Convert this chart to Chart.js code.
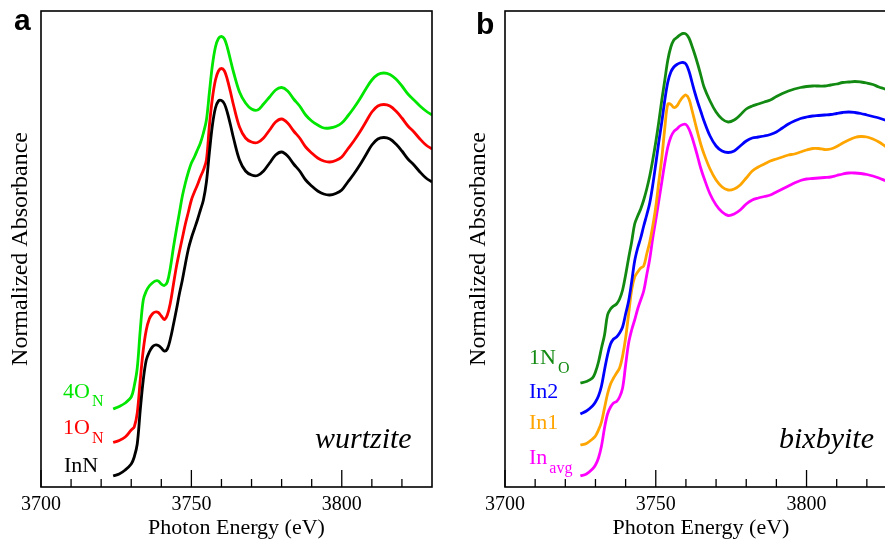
<!DOCTYPE html>
<html>
<head>
<meta charset="utf-8">
<script src="https://cdn.jsdelivr.net/npm/chart.js@4.4.1/dist/chart.umd.min.js"></script>
<style>
  html, body { margin: 0; padding: 0; background: #fff; }
  body { width: 885px; height: 550px; overflow: hidden; position: relative; }
  canvas { position: absolute; top: 0; }
  #chartA { left: 0; }
  #chartB { left: 445px; }
</style>
</head>
<body>
<canvas id="chartA" width="440" height="550"></canvas>
<canvas id="chartB" width="455" height="550"></canvas>
<script>
// photon energy grid (eV) and normalized absorbance (curves stacked with offsets)
const energyA = [3724, 3726, 3728,
  3730, 3731, 3732, 3733, 3734, 3735, 3736, 3737, 3738, 3739,
  3740, 3741, 3742, 3743, 3744, 3745, 3746, 3747, 3748, 3749,
  3750, 3751, 3752, 3753, 3754, 3755, 3756, 3757, 3758, 3759,
  3760, 3761, 3762, 3763, 3764,
  3766, 3768, 3770, 3772, 3774, 3776, 3778, 3780, 3782, 3784,
  3786, 3788, 3790, 3792, 3794, 3796, 3798, 3800, 3802, 3804,
  3806, 3808, 3810, 3812, 3814, 3816, 3818, 3820, 3822, 3824,
  3826, 3828, 3830];

const inN = [0.11, 0.13, 0.17,
  0.23, 0.30, 0.43, 0.77, 1.07, 1.27, 1.35, 1.40, 1.42, 1.415,
  1.39, 1.36, 1.38, 1.48, 1.62, 1.77, 1.93, 2.07, 2.23, 2.38,
  2.49, 2.58, 2.67, 2.77, 2.87, 3.05, 3.35, 3.62, 3.79, 3.86,
  3.865, 3.83, 3.74, 3.62, 3.49,
  3.27, 3.16, 3.12, 3.115, 3.16, 3.24, 3.32, 3.35, 3.31, 3.23,
  3.16, 3.07, 3.01, 2.96, 2.93, 2.92, 2.935, 2.97, 3.05, 3.13,
  3.22, 3.32, 3.42, 3.48, 3.495, 3.48, 3.43, 3.36, 3.28, 3.22,
  3.15, 3.09, 3.05];

const o1N = [0.445, 0.465, 0.50,
  0.57, 0.60, 0.74, 1.07, 1.37, 1.57, 1.68, 1.73, 1.75, 1.745,
  1.71, 1.675, 1.72, 1.84, 2.02, 2.20, 2.35, 2.49, 2.63, 2.75,
  2.87, 2.95, 3.02, 3.10, 3.17, 3.27, 3.62, 3.89, 4.07, 4.16,
  4.185, 4.16, 4.07, 3.95, 3.82,
  3.60, 3.49, 3.45, 3.445, 3.49, 3.57, 3.65, 3.68, 3.64, 3.56,
  3.49, 3.40, 3.34, 3.29, 3.26, 3.25, 3.265, 3.30, 3.38, 3.46,
  3.55, 3.65, 3.75, 3.81, 3.825, 3.81, 3.76, 3.69, 3.61, 3.55,
  3.48, 3.42, 3.38];

const o4N = [0.78, 0.805, 0.84,
  0.90, 1.01, 1.19, 1.57, 1.87, 1.96, 2.01, 2.04, 2.06, 2.06,
  2.03, 2.015, 2.05, 2.19, 2.39, 2.57, 2.74, 2.91, 3.04, 3.15,
  3.24, 3.30, 3.37, 3.44, 3.54, 3.67, 3.95, 4.22, 4.40, 4.485,
  4.505, 4.48, 4.39, 4.27, 4.15,
  3.95, 3.84, 3.78, 3.77, 3.83, 3.90, 3.97, 3.995, 3.96, 3.88,
  3.81, 3.72, 3.66, 3.62, 3.59, 3.59, 3.605, 3.64, 3.71, 3.79,
  3.88, 3.98, 4.07, 4.125, 4.14, 4.125, 4.08, 4.01, 3.93, 3.87,
  3.81, 3.76, 3.72];

const energyB = [3725, 3727, 3729,
  3730, 3731, 3732, 3733, 3734, 3735, 3736, 3737, 3738, 3739,
  3740, 3741, 3742, 3743, 3744, 3745, 3746, 3747, 3748, 3749,
  3750, 3751, 3752, 3753, 3754, 3755, 3756, 3757, 3758, 3759,
  3760, 3761, 3762, 3763, 3764, 3765, 3766,
  3768, 3770, 3772, 3774, 3776, 3778, 3780, 3782, 3784, 3786,
  3788, 3790, 3792, 3794, 3796, 3798, 3800, 3802, 3804, 3806,
  3808, 3810, 3812, 3814, 3816, 3818, 3820, 3822, 3824, 3826,
  3828, 3830];

const n1O = [1.04, 1.055, 1.09,
  1.15, 1.25, 1.39, 1.52, 1.72, 1.78, 1.81, 1.83, 1.88, 1.97,
  2.12, 2.29, 2.45, 2.63, 2.71, 2.78, 2.87, 2.98, 3.11, 3.27,
  3.45, 3.65, 3.87, 4.07, 4.27, 4.40, 4.47, 4.495, 4.52, 4.535,
  4.53, 4.49, 4.41, 4.32, 4.22, 4.11, 4.00,
  3.86, 3.75, 3.68, 3.65, 3.67, 3.72, 3.78, 3.81, 3.83, 3.85,
  3.87, 3.905, 3.935, 3.96, 3.98, 3.995, 4.005, 4.01, 4.01, 4.01,
  4.02, 4.03, 4.045, 4.05, 4.055, 4.05, 4.04, 4.025, 4.00, 3.98,
  3.95, 3.92];

const in2 = [0.73, 0.76, 0.81,
  0.85, 0.91, 1.01, 1.17, 1.32, 1.43, 1.48, 1.50, 1.54, 1.60,
  1.73, 1.86, 2.05, 2.26, 2.39, 2.49, 2.61, 2.72, 2.84, 3.02,
  3.23, 3.45, 3.65, 3.87, 4.05, 4.15, 4.20, 4.225, 4.24, 4.245,
  4.23, 4.16, 4.05, 3.94, 3.84, 3.75, 3.66,
  3.51, 3.41, 3.36, 3.345, 3.36, 3.41, 3.46, 3.49, 3.50, 3.51,
  3.525, 3.55, 3.59, 3.63, 3.66, 3.685, 3.70, 3.71, 3.715, 3.72,
  3.725, 3.735, 3.745, 3.75, 3.745, 3.735, 3.72, 3.705, 3.69, 3.67,
  3.645, 3.62];

const in1 = [0.42, 0.435, 0.48,
  0.51, 0.57, 0.65, 0.79, 0.93, 1.03, 1.09, 1.14, 1.19, 1.31,
  1.49, 1.73, 1.97, 2.10, 2.15, 2.19, 2.21, 2.33, 2.45, 2.61,
  2.80, 3.05, 3.29, 3.59, 3.83, 3.825, 3.795, 3.81, 3.86, 3.90,
  3.92, 3.88, 3.77, 3.65, 3.53, 3.42, 3.33,
  3.18, 3.07, 3.00, 2.97, 2.98, 3.02, 3.09, 3.16, 3.20, 3.23,
  3.26, 3.28, 3.30, 3.32, 3.33, 3.35, 3.37, 3.385, 3.385, 3.375,
  3.38, 3.405, 3.44, 3.47, 3.495, 3.505, 3.50, 3.48, 3.45, 3.41,
  3.37, 3.33];

const inAvg = [0.11, 0.13, 0.18,
  0.22, 0.29, 0.41, 0.59, 0.73, 0.80, 0.84, 0.855, 0.90, 0.99,
  1.22, 1.44, 1.57, 1.67, 1.78, 1.87, 1.96, 2.12, 2.28, 2.49,
  2.67, 2.86, 3.05, 3.24, 3.40, 3.50, 3.555, 3.58, 3.61, 3.625,
  3.625, 3.58, 3.50, 3.40, 3.29, 3.18, 3.09,
  2.93, 2.82, 2.75, 2.715, 2.73, 2.77, 2.83, 2.87, 2.89, 2.905,
  2.92, 2.95, 2.98, 3.01, 3.04, 3.065, 3.08, 3.085, 3.09, 3.095,
  3.10, 3.115, 3.13, 3.14, 3.14, 3.135, 3.125, 3.11, 3.09, 3.065,
  3.04, 3.01];

const majorTicks = [3700, 3750, 3800];
const minorTicks = [3710, 3720, 3730, 3740, 3760, 3770, 3780, 3790, 3810, 3820];

const serif = '"Liberation Serif", "Times New Roman", serif';

function pts(xs, ys) {
  return xs.map((x, i) => ({ x: x, y: ys[i] }));
}

function line(label, xs, ys, color) {
  return {
    label: label,
    data: pts(xs, ys),
    borderColor: color,
    borderWidth: 2.8,
    pointRadius: 0,
    fill: false,
    tension: 0.35
  };
}

// box round the plot and tick marks pointing inwards
const frame = {
  id: 'frame',
  afterDatasetsDraw(chart) {
    const { ctx, chartArea: a } = chart;
    const x = chart.scales.x;
    ctx.save();
    ctx.strokeStyle = '#000';
    ctx.lineWidth = 1.6;
    ctx.strokeRect(a.left, a.top, a.right - a.left, a.bottom - a.top);
    ctx.lineWidth = 1.3;
    majorTicks.concat(minorTicks).forEach(v => {
      const px = x.getPixelForValue(v);
      const len = majorTicks.includes(v) ? 17 : 8;
      ctx.beginPath();
      ctx.moveTo(px, a.bottom);
      ctx.lineTo(px, a.bottom - len);
      ctx.stroke();
    });
    ctx.restore();
  }
};

function notes(list) {
  return {
    id: 'notes',
    afterDraw(chart) {
      const ctx = chart.ctx;
      ctx.save();
      ctx.textBaseline = 'alphabetic';
      list.forEach(n => {
        ctx.font = n.font;
        ctx.fillStyle = n.color;
        ctx.fillText(n.text, n.x, n.y);
        if (n.sub) {
          const w = ctx.measureText(n.text).width;
          ctx.font = '16px ' + serif;
          ctx.fillText(n.sub, n.x + w + 2, n.y + n.dy);
        }
      });
      ctx.restore();
    }
  };
}

function options(yPad, yWidth, rightPad) {
  return {
    responsive: false,
    animation: false,
    layout: { padding: { top: 11, right: rightPad, left: 0, bottom: 0 } },
    plugins: { legend: { display: false }, tooltip: { enabled: false } },
    scales: {
      x: {
        type: 'linear',
        min: 3700,
        max: 3830,
        border: { display: false },
        grid: { display: false, drawTicks: false },
        ticks: {
          stepSize: 50,
          includeBounds: false,
          autoSkip: false,
          maxRotation: 0,
          padding: 6,
          color: '#000',
          font: { family: serif, size: 20 },
          callback: v => String(v)
        },
        title: {
          display: true,
          text: 'Photon Energy (eV)',
          color: '#000',
          font: { family: serif, size: 22 },
          padding: { top: 0, bottom: 9 }
        },
        afterFit(s) { s.height = 63; }
      },
      y: {
        min: 0,
        max: 4.76,
        border: { display: false },
        grid: { display: false, drawTicks: false },
        ticks: { display: false },
        title: {
          display: true,
          text: 'Normalized Absorbance',
          color: '#000',
          font: { family: serif, size: 24 },
          padding: { top: yPad, bottom: 0 }
        },
        afterFit(s) { s.width = yWidth; }
      }
    }
  };
}

new Chart(document.getElementById('chartA'), {
  type: 'line',
  data: {
    datasets: [
      line('InN', energyA, inN, '#000000'),
      line('1O_N', energyA, o1N, '#ff0000'),
      line('4O_N', energyA, o4N, '#00e600')
    ]
  },
  options: options(6, 41, 8),
  plugins: [frame, notes([
    { text: 'a', x: 14, y: 30, color: '#000', font: 'bold 30px "Liberation Sans", Arial, sans-serif' },
    { text: '4O', sub: 'N', dy: 8, x: 63, y: 398, color: '#00e600', font: '22px ' + serif },
    { text: '1O', sub: 'N', dy: 9, x: 63, y: 434, color: '#ff0000', font: '22px ' + serif },
    { text: 'InN', x: 64, y: 472, color: '#000', font: '22px ' + serif },
    { text: 'wurtzite', x: 315, y: 448, color: '#000', font: 'italic 30px ' + serif }
  ])]
});

new Chart(document.getElementById('chartB'), {
  type: 'line',
  data: {
    datasets: [
      line('1N_O', energyB, n1O, '#128a12'),
      line('In2', energyB, in2, '#0000ff'),
      line('In1', energyB, in1, '#ffa500'),
      line('In_avg', energyB, inAvg, '#ff00ff')
    ]
  },
  options: options(19, 60, 3),
  plugins: [frame, notes([
    { text: 'b', x: 31, y: 34, color: '#000', font: 'bold 30px "Liberation Sans", Arial, sans-serif' },
    { text: '1N', sub: 'O', dy: 9, x: 84, y: 364, color: '#128a12', font: '22px ' + serif },
    { text: 'In2', x: 84, y: 398, color: '#0000ff', font: '22px ' + serif },
    { text: 'In1', x: 84, y: 429, color: '#ffa500', font: '22px ' + serif },
    { text: 'In', sub: 'avg', dy: 9, x: 84, y: 464, color: '#ff00ff', font: '22px ' + serif },
    { text: 'bixbyite', x: 334, y: 448, color: '#000', font: 'italic 30px ' + serif }
  ])]
});
</script>
</body>
</html>
